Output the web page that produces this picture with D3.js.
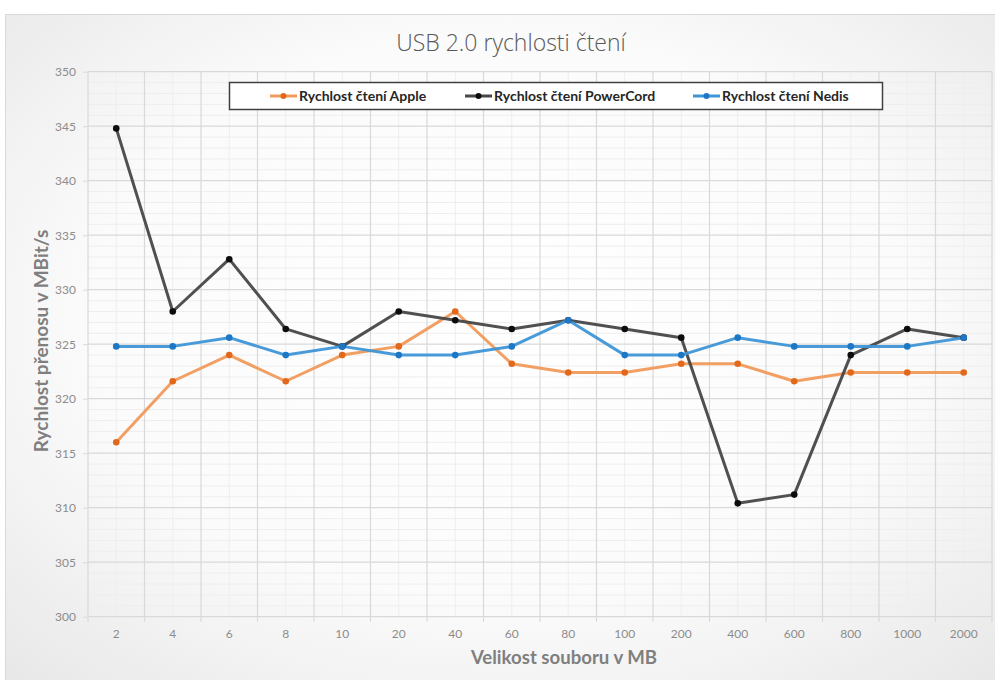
<!DOCTYPE html>
<html><head><meta charset="utf-8">
<script src="https://cdn.jsdelivr.net/npm/d3@7"></script>
<style>html,body{margin:0;padding:0;background:#fff;}svg{display:block;}</style>
</head><body>
<svg id="c" width="995" height="680"></svg>
<script>
const categories = ["2","4","6","8","10","20","40","60","80","100","200","400","600","800","1000","2000"];
const apple     = [316.0,321.6,324.0,321.6,324.0,324.8,328.0,323.2,322.4,322.4,323.2,323.2,321.6,322.4,322.4,322.4];
const powerCord = [344.8,328.0,332.8,326.4,324.8,328.0,327.2,326.4,327.2,326.4,325.6,310.4,311.2,324.0,326.4,325.6];
const nedis     = [324.8,324.8,325.6,324.0,324.8,324.0,324.0,324.8,327.2,324.0,324.0,325.6,324.8,324.8,324.8,325.6];
const seriesNames = ["Rychlost čtení Apple","Rychlost čtení PowerCord","Rychlost čtení Nedis"];
const yTicks = [300,305,310,315,320,325,330,335,340,345,350];
const titleText = "USB 2.0 rychlosti čtení";
const xTitle = "Velikost souboru v MB";
const yTitle = "Rychlost přenosu v MBit/s";

const series = [
  {name: seriesNames[0], values: apple, line: "#F19A5C", dot: "#E2691C"},
  {name: seriesNames[1], values: powerCord, line: "#474747", dot: "#0d0d0d"},
  {name: seriesNames[2], values: nedis, line: "#3E96D6", dot: "#1C78C7"}
];

const svg = d3.select("#c");
const defs = svg.append("defs");
const rg = defs.append("radialGradient").attr("id","bg").attr("cx","50%").attr("cy","45%").attr("r","75%");
rg.append("stop").attr("offset","0%").attr("stop-color","#ffffff");
rg.append("stop").attr("offset","55%").attr("stop-color","#fbfbfb");
rg.append("stop").attr("offset","100%").attr("stop-color","#e6e6e6");

svg.append("rect").attr("x",5.5).attr("y",14.5).attr("width",995).attr("height",680)
  .attr("fill","url(#bg)").attr("stroke","#d9d9d9").attr("stroke-width",1);

const L = 88, R = 992, T = 71.7, B = 616.7;
const x = d3.scaleBand().domain(categories).range([L,R]);
const y = d3.scaleLinear().domain([300,350]).range([B,T]);

const g = svg.append("g");
const minorY = d3.range(301,350).filter(v => v % 5 !== 0);
g.selectAll("line.mh").data(minorY).join("line")
  .attr("x1",L).attr("x2",R).attr("y1",d=>y(d)).attr("y2",d=>y(d))
  .attr("stroke","#eeeeee").attr("stroke-width",1);
g.selectAll("line.mv").data(categories).join("line")
  .attr("x1",d=>x(d)+x.bandwidth()/2).attr("x2",d=>x(d)+x.bandwidth()/2)
  .attr("y1",T).attr("y2",B).attr("stroke","#eeeeee").attr("stroke-width",1);
g.selectAll("line.Mh").data(yTicks).join("line")
  .attr("x1",L).attr("x2",R).attr("y1",d=>y(d)).attr("y2",d=>y(d))
  .attr("stroke","#d9d9d9").attr("stroke-width",1.2);
const bounds = categories.map(c => x(c)).concat([R]);
g.selectAll("line.Mv").data(bounds).join("line")
  .attr("x1",d=>d).attr("x2",d=>d).attr("y1",T).attr("y2",B)
  .attr("stroke","#d9d9d9").attr("stroke-width",1.2);

const xAxis = d3.axisBottom(x).tickSize(0).tickPadding(13);
const xa = svg.append("g").attr("transform",`translate(0,${B})`).call(xAxis);
xa.select(".domain").remove();
xa.selectAll("text").attr("fill","#8c8c8c").style("font-family","Lato, 'Open Sans', sans-serif").style("font-size","12px");
svg.selectAll("line.xt").data(bounds).join("line")
  .attr("x1",d=>d).attr("x2",d=>d).attr("y1",B).attr("y2",B+5).attr("stroke","#d9d9d9").attr("stroke-width",1.2);

const yAxis = d3.axisLeft(y).tickValues(yTicks).tickSize(5).tickPadding(7);
const ya = svg.append("g").attr("transform",`translate(${L},0)`).call(yAxis);
ya.select(".domain").remove();
ya.selectAll("line").attr("stroke","#d9d9d9");
ya.selectAll("text").attr("fill","#8c8c8c").style("font-family","Lato, 'Open Sans', sans-serif").style("font-size","12px");

const line = d3.line().x((d,i)=>x(categories[i])+x.bandwidth()/2).y(d=>y(d));
series.forEach(s => {
  svg.append("path").datum(s.values).attr("d",line).attr("fill","none")
    .attr("stroke",s.line).attr("stroke-width",3).attr("stroke-linejoin","round").attr("stroke-opacity",0.95);
});
series.forEach(s => {
  svg.append("g").selectAll("circle").data(s.values).join("circle")
    .attr("cx",(d,i)=>x(categories[i])+x.bandwidth()/2).attr("cy",d=>y(d)).attr("r",3.3).attr("fill",s.dot);
});

svg.append("text").attr("x",511).attr("y",51).attr("text-anchor","middle")
  .style("font-family","'Open Sans', Lato, sans-serif").style("font-weight",300).style("font-size","23px")
  .attr("fill","#595959").text(titleText);

svg.append("text").attr("x",564).attr("y",664).attr("text-anchor","middle")
  .style("font-family","Lato, 'Open Sans', sans-serif").style("font-weight",700).style("font-size","18.6px")
  .attr("fill","#7f7f7f").text(xTitle);
svg.append("text").attr("transform","translate(48,341) rotate(-90)").attr("text-anchor","middle")
  .style("font-family","Lato, 'Open Sans', sans-serif").style("font-weight",700).style("font-size","19px")
  .attr("fill","#7f7f7f").text(yTitle);

const lg = svg.append("g");
lg.append("rect").attr("x",229.5).attr("y",82.5).attr("width",653).attr("height",27)
  .attr("fill","#ffffff").attr("stroke","#404040").attr("stroke-width",1.5);
const legendX = [270, 465, 693];
series.forEach((s,i) => {
  const gx = legendX[i], gy = 96;
  lg.append("line").attr("x1",gx).attr("x2",gx+27).attr("y1",gy).attr("y2",gy)
    .attr("stroke",s.line).attr("stroke-width",3);
  lg.append("circle").attr("cx",gx+13.5).attr("cy",gy).attr("r",3).attr("fill",s.dot);
  lg.append("text").attr("x",gx+29).attr("y",gy+5)
    .style("font-family","Lato, 'Open Sans', sans-serif").style("font-weight",700).style("font-size","14px")
    .attr("fill","#262626").text(s.name);
});
</script>
</body></html>
